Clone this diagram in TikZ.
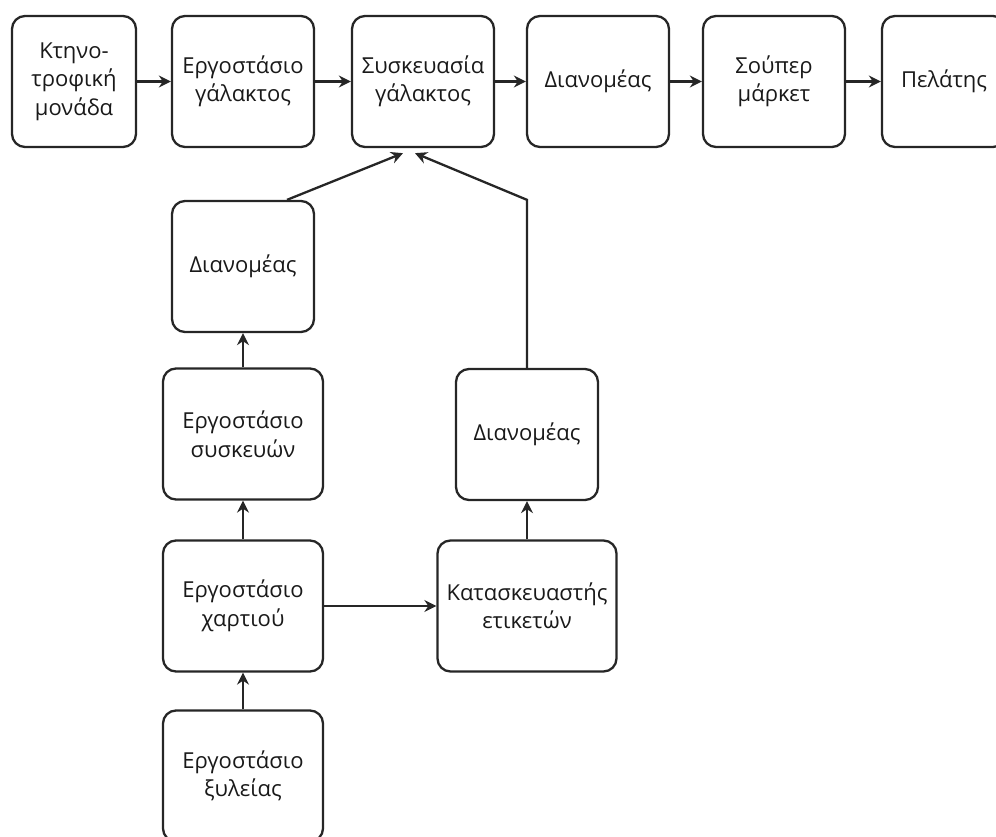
\documentclass[tikz,border=0pt]{standalone}
\usepackage{fontspec}
\setmainfont{Open Sans}
\usetikzlibrary{arrows.meta}
\begin{document}
\begin{tikzpicture}[x=1pt,y=-1pt,
  box/.style={draw=black!85, line width=2.3pt, rounded corners=13pt,
    align=center, inner sep=0pt, text=black!90,
    font=\fontsize{22}{28.5}\selectfont,
    minimum width=142pt, minimum height=131pt},
  wide/.style={minimum width=160pt},
  arr/.style={draw=black!85, line width=2.3pt,
    -{Stealth[length=12pt,width=12pt,inset=4pt]}},
]
\useasboundingbox (0,0) rectangle (996,837);
\clip (0,0) rectangle (996,837);

% milk chain, top row
\node[box, minimum width=124pt] (farm) at (74,81.5) {Κτηνο-\\τροφική\\μονάδα};
\node[box] (dairy) at (243,81.5) {Εργοστάσιο\\γάλακτος};
\node[box] (pack) at (423,81.5) {Συσκευασία\\γάλακτος};
\node[box] (dist) at (598,81.5) {Διανομέας};
\node[box] (market) at (774,81.5) {Σούπερ\\μάρκετ};
\node[box, minimum width=124pt] (client) at (944,81.5) {Πελάτης};

% packaging supply, left column
\node[box] (distA) at (243,266.5) {Διανομέας};
\node[box, wide] (pkgf) at (243,434) {Εργοστάσιο\\συσκευών};
\node[box, wide] (paper) at (243,606) {Εργοστάσιο\\χαρτιού};
\node[box, wide] (wood) at (243,776) {Εργοστάσιο\\ξυλείας};

% labels supply, right column
\node[box] (distB) at (527,434.5) {Διανομέας};
\node[box, minimum width=179pt] (labels) at (527,606) {Κατασκευαστής\\ετικετών};

% connectors
\draw[arr] (farm) -- (dairy);
\draw[arr] (dairy) -- (pack);
\draw[arr] (pack) -- (dist);
\draw[arr] (dist) -- (market);
\draw[arr] (market) -- (client);

\draw[arr] (wood) -- (paper);
\draw[arr] (paper) -- (pkgf);
\draw[arr] (pkgf) -- (distA);
\draw[arr] ([xshift=44pt]distA.north) -- ([xshift=-20pt,yshift=-5pt]pack.south);

\draw[arr] (paper) -- (labels);
\draw[arr] (labels) -- (distB);
\draw[arr] (distB.north) -- (distB.north |- distA.north) -- ([xshift=-8pt,yshift=-5pt]pack.south);
\end{tikzpicture}
\end{document}
